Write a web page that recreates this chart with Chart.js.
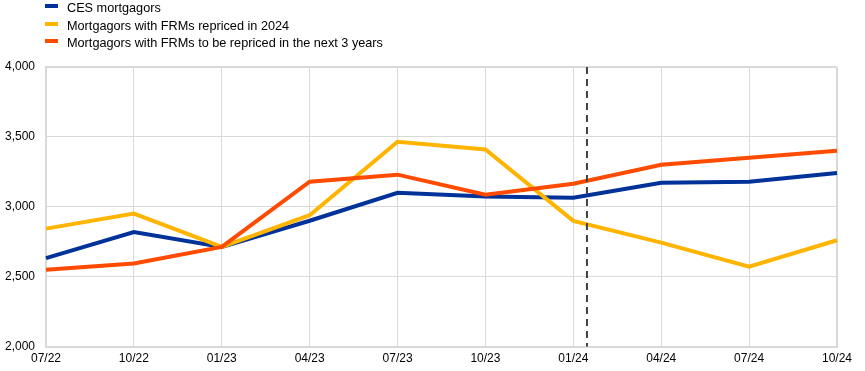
<!DOCTYPE html>
<html>
<head>
<meta charset="utf-8">
<script src="https://cdn.jsdelivr.net/npm/chart.js@4/dist/chart.umd.min.js"></script>
<style>
    html, body { margin: 0; padding: 0; background: #fff; }
    #wrap { position: relative; width: 865px; height: 371px; }
    #legend { position: absolute; left: 45px; top: 0px; font-family: "Liberation Sans", Arial, sans-serif; font-size: 12.7px; color: #000; }
    #legend div { height: 17.5px; line-height: 17.5px; white-space: nowrap; }
    #legend span { display: inline-block; width: 13px; height: 4px; margin-right: 9px; vertical-align: 4px; }
</style>
</head>
<body>
<div id="wrap">
    <canvas id="chart" width="865" height="371"></canvas>
    <div id="legend"></div>
</div>
<script>
const labels = ["07/22", "10/22", "01/23", "04/23", "07/23", "10/23", "01/24", "04/24", "07/24", "10/24"]
const cesMortgagors = [2633, 2820, 2713, 2900, 3100, 3073, 3065, 3172, 3180, 3241]
const repriced2024 = [2844, 2951, 2713, 2940, 3465, 3410, 2899, 2744, 2571, 2761]
const repricedNext3y = [2549, 2594, 2713, 3180, 3230, 3087, 3165, 3301, 3351, 3401]
const seriesNames = [
    "CES mortgagors",
    "Mortgagors with FRMs repriced in 2024",
    "Mortgagors with FRMs to be repriced in the next 3 years",
]
const colors = ["#003299", "#FFB400", "#FF4B00"]
// position of the dashed marker, in category units (between 01/24 and 04/24)
const cutoffIndex = 6.155

const dashedLine = {
    id: 'dashedLine',
    afterDatasetsDraw(chart) {
        const x = chart.scales.x
        const area = chart.chartArea
        const i = Math.floor(cutoffIndex)
        const px = x.getPixelForValue(i) + (cutoffIndex - i) * (x.getPixelForValue(i + 1) - x.getPixelForValue(i))
        const ctx = chart.ctx
        ctx.save()
        ctx.strokeStyle = '#404040'
        ctx.lineWidth = 2
        ctx.setLineDash([7, 5])
        ctx.beginPath()
        ctx.moveTo(px, area.top)
        ctx.lineTo(px, area.bottom)
        ctx.stroke()
        ctx.restore()
    }
}

const dataSeries = [cesMortgagors, repriced2024, repricedNext3y]
const datasets = []
for (let i = dataSeries.length - 1; i >= 0; i--) {
    datasets.push({
        label: seriesNames[i],
        data: dataSeries[i],
        borderColor: colors[i],
        backgroundColor: colors[i],
        borderWidth: 4,
        pointRadius: 0,
        tension: 0,
    })
}

const legend = document.getElementById('legend')
seriesNames.forEach((name, i) => {
    const row = document.createElement('div')
    row.innerHTML = '<span style="background:' + colors[i] + '"></span>' + name
    legend.appendChild(row)
})

Chart.defaults.font.family = '"Liberation Sans", Arial, sans-serif'
Chart.defaults.font.size = 12
Chart.defaults.color = '#000'

new Chart(document.getElementById('chart'), {
    type: 'line',
    data: { labels: labels, datasets: datasets },
    plugins: [dashedLine],
    options: {
        responsive: false,
        animation: false,
        layout: { padding: { top: 67, left: 4, right: 28, bottom: 0 } },
        plugins: {
            legend: { display: false },
            tooltip: { enabled: false },
        },
        scales: {
            x: {
                offset: false,
                grid: {
                    color: '#d9d9d9',
                    lineWidth: (c) => (c.index === labels.length - 1 ? 2 : 1),
                    drawTicks: false,
                },
                border: { color: '#d9d9d9', width: 2 },
                ticks: { padding: 5, maxRotation: 0, autoSkip: false },
            },
            y: {
                min: 2000,
                max: 4000,
                afterFit: (scale) => { scale.width = 42 },
                grid: {
                    color: '#d9d9d9',
                    lineWidth: (c) => (c.tick && c.tick.value === 4000 ? 2 : 1),
                    drawTicks: false,
                },
                border: { color: '#d9d9d9', width: 2 },
                ticks: {
                    stepSize: 500,
                    padding: 11,
                    callback: (v) => v.toLocaleString('en-US'),
                },
            },
        },
    },
})
</script>
</body>
</html>
